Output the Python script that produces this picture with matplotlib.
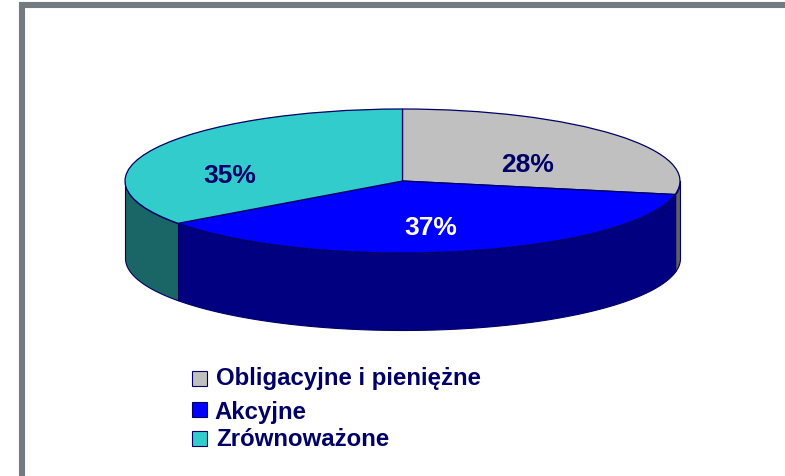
import numpy as np
import matplotlib
matplotlib.use("Agg")
import matplotlib.pyplot as plt
from matplotlib.patches import Rectangle

labels = ["Obligacyjne i pieniężne", "Akcyjne", "Zrównoważone"]
values = [28, 37, 35]
top_colors = ["#c0c0c0", "#0000ff", "#33cccc"]
side_colors = ["#606060", "#000080", "#1a6666"]
pct_colors = ["#000066", "white", "#000066"]
pct_pos = [(528, 165), (431, 228), (230, 176)]
legend_pos = [(216, 379), (214, 412), (216, 439)]
legend_box = [(191.5, 371), (191.5, 402), (191.5, 431)]

W, H = 785, 476
NAVY = "#000066"
plt.rcParams["font.family"] = ["Liberation Sans", "DejaVu Sans"]

fig = plt.figure(figsize=(W / 100, H / 100), dpi=100, facecolor="white")

# pixel axes behind everything, only for the frame
bg = fig.add_axes([0, 0, 1, 1])
bg.set_xlim(0, W)
bg.set_ylim(H, 0)
bg.axis("off")
bg.add_patch(Rectangle((22, 4.5), W + 20, H + 20, fc="white", ec="#737b80", lw=4.4))

# pie axes stretched so that the circle becomes the flat ellipse
cx, cy, rx, ry, depth = 402.5, 181, 277.5, 72, 77
ax = fig.add_axes([0, 0, 1, 1], facecolor="none")

starts = 90 - np.cumsum([0] + values[:-1]) * 3.6
ends = 90 - np.cumsum(values) * 3.6
d = depth / ry

# side walls: only the part of each slice on the front half
for a, b, c in zip(starts, ends, side_colors):
    lo, hi = max(b, -180), min(a, 0)
    if hi > lo:
        t = np.radians(np.linspace(lo, hi, 200))
        ax.fill_between(np.cos(t), np.sin(t) - d, np.sin(t), color=c, lw=0.8, ec=NAVY, zorder=1)

ax.pie(values, colors=top_colors, startangle=90, counterclock=False, radius=1,
       wedgeprops=dict(edgecolor=NAVY, linewidth=0.9, zorder=3))
ax.set_aspect("auto")
ax.set_xlim((0 - cx) / rx, (W - cx) / rx)
ax.set_ylim((cy - H) / ry, cy / ry)
ax.axis("off")

# texts and legend above the pie, again in pixels
top = fig.add_axes([0, 0, 1, 1], facecolor="none")
top.set_xlim(0, W)
top.set_ylim(H, 0)
top.axis("off")
for v, p, c in zip(values, pct_pos, pct_colors):
    top.text(p[0], p[1], f"{v}%", color=c, fontsize=19, fontweight="bold", ha="center", va="center")

for lab, tp, bp, c in zip(labels, legend_pos, legend_box, top_colors):
    top.add_patch(Rectangle(bp, 15, 15, fc=c, ec=NAVY, lw=0.8))
    top.text(tp[0], tp[1], lab, color=NAVY, fontsize=17.3, fontweight="bold", ha="left", va="center")

fig.savefig("out.png", dpi=100)
